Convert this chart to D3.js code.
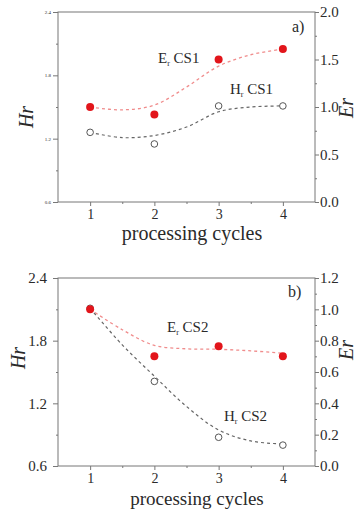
<!DOCTYPE html>
<html>
<head>
<meta charset="utf-8">
<script src="https://cdn.jsdelivr.net/npm/d3@7"></script>
<style>
  body { margin: 0; background: #fff; }
  svg { display: block; }
</style>
</head>
<body>
<svg id="chart"></svg>
<script>
const width = 358;
const height = 510;
const serif = 'Liberation Serif';

// processing cycles
const cycles = [1, 2, 3, 4];
const fitX = [1, 1.5, 2, 2.5, 3, 3.5, 4];

// panel a) CS1
const erCS1 = [1.0, 0.92, 1.5, 1.61];
const hrCS1 = [1.26, 1.15, 1.51, 1.51];
const erFitCS1 = [1.0, 0.97, 1.02, 1.21, 1.43, 1.55, 1.61];
const hrFitCS1 = [1.26, 1.21, 1.23, 1.31, 1.455, 1.50, 1.51];

// panel b) CS2
const erCS2 = [1.0, 0.70, 0.765, 0.70];
const hrCS2 = [2.11, 1.41, 0.875, 0.80];
const erFitCS2 = [1.0, 0.87, 0.77, 0.748, 0.745, 0.735, 0.72];
const hrFitCS2 = [2.11, 1.76, 1.46, 1.17, 0.945, 0.84, 0.81];

const hrTicks = [0.6, 1.2, 1.8, 2.4];
const erTicksA = [0.0, 0.5, 1.0, 1.5, 2.0];
const erTicksB = [0.0, 0.2, 0.4, 0.6, 0.8, 1.0, 1.2];

const svg = d3.select('#chart').attr('width', width).attr('height', height);

const frameColor = '#777';
const textColor = '#2a2a2a';
const red = '#e2151b';

function drawPanel(p) {
  const g = svg.append('g');
  const x = d3.scaleLinear().domain([0.5, 4.5]).range([p.left, p.right]);
  const yH = d3.scaleLinear().domain([0.6, 2.4]).range([p.bottom, p.top]);
  const yE = d3.scaleLinear().domain([0, p.erMax]).range([p.bottom, p.top]);

  // frame
  g.append('rect')
    .attr('x', p.left).attr('y', p.top)
    .attr('width', p.right - p.left).attr('height', p.bottom - p.top)
    .attr('fill', 'none').attr('stroke', frameColor).attr('stroke-width', 1);

  const style = sel => {
    sel.select('.domain').remove();
    sel.selectAll('line').attr('stroke', frameColor);
    sel.selectAll('text').attr('fill', textColor).style('font-family', serif);
  };

  // bottom axis
  g.append('g').attr('transform', `translate(0,${p.bottom})`)
    .call(d3.axisBottom(x).tickValues([1.5, 2.5, 3.5]).tickSize(2).tickFormat(''))
    .call(style);
  g.append('g').attr('transform', `translate(0,${p.bottom})`)
    .call(d3.axisBottom(x).tickValues(cycles).tickSize(4).tickPadding(p.xPad).tickFormat(d3.format('d')))
    .call(style)
    .selectAll('text').attr('font-size', 14);

  // left axis Hr
  g.append('g').attr('transform', `translate(${p.left},0)`)
    .call(d3.axisLeft(yH).tickValues([0.9, 1.5, 2.1]).tickSize(2).tickFormat(''))
    .call(style);
  g.append('g').attr('transform', `translate(${p.left},0)`)
    .call(d3.axisLeft(yH).tickValues(hrTicks).tickSize(5).tickPadding(p.hrPad).tickFormat(d3.format('.1f')))
    .call(style)
    .selectAll('text').attr('font-size', p.hrFont);

  // right axis Er
  const minorE = p.erTicks.slice(1).map((t, i) => (t + p.erTicks[i]) / 2);
  g.append('g').attr('transform', `translate(${p.right},0)`)
    .call(d3.axisRight(yE).tickValues(minorE).tickSize(2).tickFormat(''))
    .call(style);
  g.append('g').attr('transform', `translate(${p.right},0)`)
    .call(d3.axisRight(yE).tickValues(p.erTicks).tickSize(4).tickPadding(1).tickFormat(d3.format('.1f')))
    .call(style)
    .selectAll('text').attr('font-size', 15);

  // fitted curves
  const line = d3.line().curve(d3.curveCatmullRom.alpha(0.5));
  g.append('path')
    .attr('d', line(fitX.map((c, i) => [x(c), yE(p.erFit[i])])))
    .attr('fill', 'none').attr('stroke', '#f08c8c').attr('stroke-width', 1.3)
    .attr('stroke-dasharray', '3,3');
  g.append('path')
    .attr('d', line(fitX.map((c, i) => [x(c), yH(p.hrFit[i])])))
    .attr('fill', 'none').attr('stroke', '#666').attr('stroke-width', 1.2)
    .attr('stroke-dasharray', '3,3');

  // points
  g.append('g').selectAll('circle')
    .data(cycles.map((c, i) => [c, p.hr[i]])).enter().append('circle')
    .attr('cx', d => x(d[0])).attr('cy', d => yH(d[1])).attr('r', 3.3)
    .attr('fill', '#fff').attr('stroke', '#555').attr('stroke-width', 1);
  g.append('g').selectAll('circle')
    .data(cycles.map((c, i) => [c, p.er[i]])).enter().append('circle')
    .attr('cx', d => x(d[0])).attr('cy', d => yE(d[1])).attr('r', 4)
    .attr('fill', red);

  // series labels
  const label = (lx, ly, sym, name) => {
    const t = g.append('text').attr('x', lx).attr('y', ly).style('font-family', serif)
      .attr('font-size', 15).attr('fill', textColor);
    t.append('tspan').text(sym);
    t.append('tspan').text('r').attr('font-size', 8).attr('dy', 3);
    t.append('tspan').text(' ' + name).attr('dy', -3);
  };
  label(p.erLabel[0], p.erLabel[1], 'E', p.name);
  label(p.hrLabel[0], p.hrLabel[1], 'H', p.name);

  g.append('text').attr('x', p.tag[0]).attr('y', p.tag[1]).style('font-family', serif)
    .attr('font-size', 16).attr('fill', textColor).text(p.tagText);

  // axis titles
  g.append('text')
    .attr('transform', `translate(${p.hrTitle[0]},${p.hrTitle[1]}) rotate(-90)`)
    .attr('text-anchor', 'middle').attr('font-size', 20).attr('font-style', 'italic')
    .style('font-family', serif).attr('fill', textColor).text('Hr');
  g.append('text')
    .attr('transform', `translate(${p.erTitle[0]},${p.erTitle[1]}) rotate(-90)`)
    .attr('text-anchor', 'middle').attr('font-size', 20).attr('font-style', 'italic')
    .style('font-family', serif).attr('fill', textColor).text('Er');
  g.append('text')
    .attr('x', p.xTitle[0]).attr('y', p.xTitle[1])
    .attr('text-anchor', 'middle').attr('font-size', p.xTitleFont).attr('fill', textColor)
    .style('font-family', serif).text('processing cycles');
}

drawPanel({
  top: 12, bottom: 202, left: 58, right: 315,
  erMax: 2.0, erTicks: erTicksA, hrPad: 2, hrFont: 5, xPad: 3,
  er: erCS1, hr: hrCS1, erFit: erFitCS1, hrFit: hrFitCS1,
  name: 'CS1', erLabel: [158, 63], hrLabel: [230, 94],
  tag: [292, 32], tagText: 'a)',
  hrTitle: [33, 117], erTitle: [353, 108], xTitle: [192, 240], xTitleFont: 20
});

drawPanel({
  top: 278, bottom: 466, left: 58, right: 315,
  erMax: 1.2, erTicks: erTicksB, hrPad: 6, hrFont: 15, xPad: 3,
  er: erCS2, hr: hrCS2, erFit: erFitCS2, hrFit: hrFitCS2,
  name: 'CS2', erLabel: [167, 332], hrLabel: [224, 421],
  tag: [288, 297], tagText: 'b)',
  hrTitle: [25, 358], erTitle: [353, 350], xTitle: [197, 505], xTitleFont: 19
});
</script>
</body>
</html>
